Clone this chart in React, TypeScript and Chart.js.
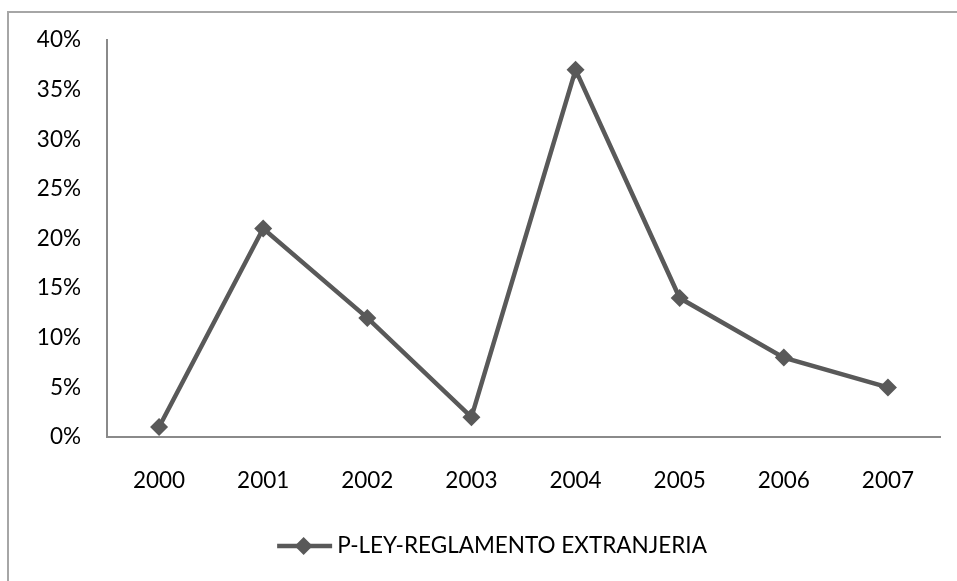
import React, { useEffect, useRef } from "react";
import { Chart, registerables } from "chart.js";

Chart.register(...registerables);

const years = ["2000", "2001", "2002", "2003", "2004", "2005", "2006", "2007"];
const seriesLabel = "P-LEY-REGLAMENTO EXTRANJERIA";
const seriesValues = [1, 21, 12, 2, 37, 14, 8, 5];
const yTicksMax = 40;
const yTickStep = 5;

const LINE_COLOR = "#595959";
const FONT = "Lato, 'Open Sans', sans-serif";

const legendPlugin = {
  id: "customLegend",
  afterDraw(chart: any) {
    const ctx = chart.ctx;
    const ds = chart.data.datasets[0];
    ctx.save();
    ctx.font = `22.5px ${FONT}`;
    const tw = ctx.measureText(ds.label).width;
    const lineW = 55;
    const gap = 5;
    const total = lineW + gap + tw;
    const cx = 492;
    const y = 546;
    const x0 = cx - total / 2;
    ctx.strokeStyle = LINE_COLOR;
    ctx.lineWidth = 4.5;
    ctx.beginPath();
    ctx.moveTo(x0, y);
    ctx.lineTo(x0 + lineW, y);
    ctx.stroke();
    const mx = x0 + lineW / 2 - 1;
    const r = 9;
    ctx.fillStyle = LINE_COLOR;
    ctx.beginPath();
    ctx.moveTo(mx, y - r);
    ctx.lineTo(mx + r, y);
    ctx.lineTo(mx, y + r);
    ctx.lineTo(mx - r, y);
    ctx.closePath();
    ctx.fill();
    ctx.fillStyle = "#000";
    ctx.textBaseline = "middle";
    ctx.textAlign = "left";
    ctx.fillText(ds.label, x0 + lineW + gap, y);
    ctx.restore();
  },
};

export default function App() {
  const ref = useRef<HTMLCanvasElement | null>(null);
  useEffect(() => {
    if (!ref.current) return;
    const chart = new Chart(ref.current, {
      type: "line",
      data: {
        labels: years,
        datasets: [
          {
            label: seriesLabel,
            data: seriesValues,
            borderColor: LINE_COLOR,
            backgroundColor: LINE_COLOR,
            borderWidth: 4.5,
            pointStyle: "rectRot",
            pointRadius: 9,
            pointBackgroundColor: LINE_COLOR,
            pointBorderColor: LINE_COLOR,
            pointBorderWidth: 0,
            tension: 0,
          },
        ],
      },
      options: {
        animation: false,
        responsive: false,
        maintainAspectRatio: false,
        layout: { padding: { top: 40, right: 17, left: 0, bottom: 0 } },
        plugins: { legend: { display: false }, tooltip: { enabled: false } },
        scales: {
          x: {
            offset: true,
            grid: { display: true, color: "rgba(0,0,0,0)", drawTicks: false, offset: true },
            border: { display: true, color: "#8a8a8a", width: 2 },
            ticks: { color: "#000", font: { family: FONT, size: 22.5 }, padding: 30 },
            afterFit: (s: any) => {
              s.height = 581 - 437;
            },
          },
          y: {
            min: 0,
            max: yTicksMax,
            grid: { display: true, color: "rgba(0,0,0,0)", drawTicks: false },
            border: { display: true, color: "#8a8a8a", width: 2 },
            ticks: {
              stepSize: yTickStep,
              color: "#000",
              font: { family: FONT, size: 22.5 },
              padding: 26,
              callback: (v: any) => `${v}%`,
            },
            afterFit: (s: any) => {
              s.width = 107;
            },
          },
        },
      },
      plugins: [legendPlugin],
    });
    return () => chart.destroy();
  }, []);
  return (
    <div style={{ position: "fixed", left: 0, top: 0, width: 957, height: 581, background: "#fff", overflow: "hidden" }}>
      <canvas ref={ref} width={957} height={581} style={{ position: "absolute", left: 0, top: 0 }} />
      <div
        style={{
          position: "absolute",
          left: 7,
          top: 11,
          width: 1000,
          height: 700,
          border: "2px solid #a6a6a6",
          pointerEvents: "none",
        }}
      />
    </div>
  );
}
